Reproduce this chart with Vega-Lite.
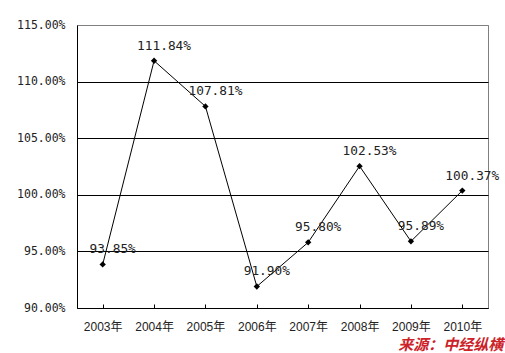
{
  "$schema": "https://vega.github.io/schema/vega-lite/v6.json",
  "width": 411,
  "height": 283,
  "autosize": "none",
  "padding": {"left": 77, "top": 25, "right": 17, "bottom": 45},
  "background": "white",
  "config": {
    "view": {"stroke": "#808080", "strokeWidth": 1}
  },
  "title": {
    "text": "来源：中经纵横",
    "orient": "bottom",
    "anchor": "end",
    "font": "Noto Sans CJK SC",
    "fontSize": 15,
    "fontWeight": "bold",
    "fontStyle": "italic",
    "color": "#cc2229",
    "offset": 6,
    "dx": 4
  },
  "data": {
    "values": [
      {"year": "2003年", "value": 93.85},
      {"year": "2004年", "value": 111.84},
      {"year": "2005年", "value": 107.81},
      {"year": "2006年", "value": 91.90},
      {"year": "2007年", "value": 95.80},
      {"year": "2008年", "value": 102.53},
      {"year": "2009年", "value": 95.89},
      {"year": "2010年", "value": 100.37}
    ]
  },
  "encoding": {
    "x": {
      "field": "year",
      "type": "ordinal",
      "scale": {"paddingInner": 0, "paddingOuter": 0},
      "axis": {
        "title": null,
        "labelAngle": 0,
        "bandPosition": 0,
        "tickSize": -4,
        "tickColor": "black",
        "domainColor": "black",
        "labelFont": "Liberation Sans, Noto Sans CJK SC",
        "labelFontSize": 12,
        "labelColor": "#222",
        "labelPadding": 17,
        "labelAlign": "center",
        "labelOffset": 0
      }
    },
    "y": {
      "field": "value",
      "type": "quantitative",
      "scale": {"domain": [90, 115], "nice": false, "zero": false},
      "axis": {
        "title": null,
        "values": [90, 95, 100, 105, 110, 115],
        "labelExpr": "format(datum.value, '.2f') + '%'",
        "ticks": false,
        "labelPadding": 12,
        "domainColor": "black",
        "grid": true,
        "gridColor": {"condition": {"test": "datum.value == 115", "value": "#808080"}, "value": "black"},
        "gridOpacity": 1,
        "labelFont": "DejaVu Sans Mono",
        "labelFontSize": 11.5,
        "labelColor": "#222"
      }
    }
  },
  "layer": [
    {
      "mark": {"type": "line", "color": "black", "strokeWidth": 1}
    },
    {
      "mark": {"type": "point", "shape": "diamond", "filled": true, "color": "black", "size": 40, "opacity": 1}
    },
    {
      "mark": {"type": "text", "font": "DejaVu Sans Mono", "fontSize": 12.8, "color": "#222", "dx": 10, "dy": -15,
        "text": {"expr": "format(datum.value, '.2f') + '%'"}}
    }
  ]
}
